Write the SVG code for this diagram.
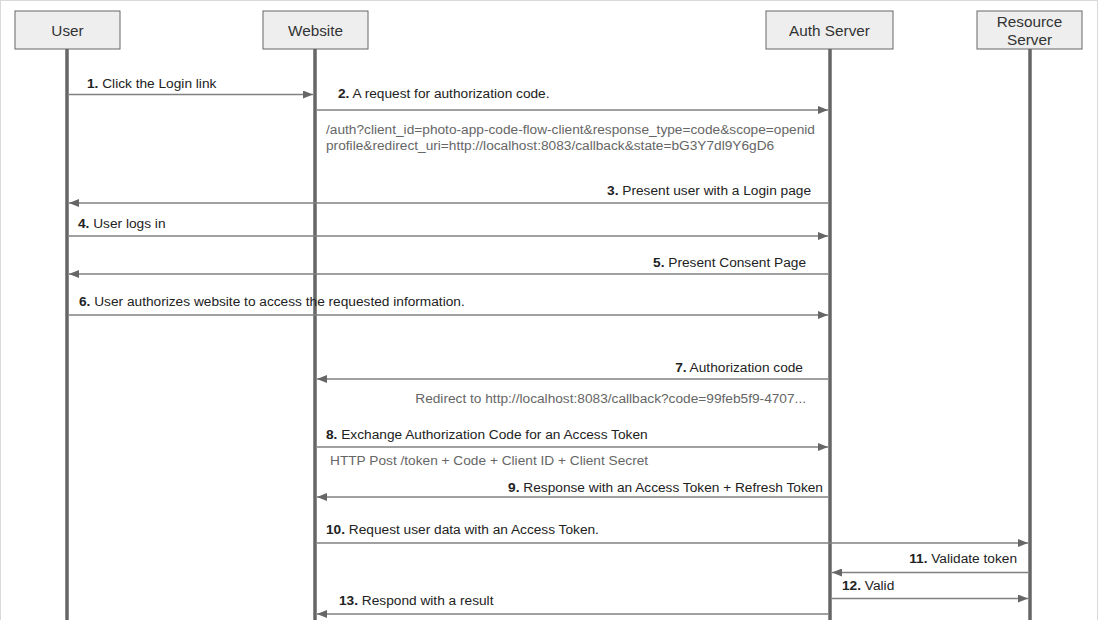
<svg xmlns="http://www.w3.org/2000/svg" width="1098" height="620" viewBox="0 0 1098 620">
<style>
.frame{fill:#fff;stroke:#d9d9d9;stroke-width:1}
.box{fill:#eeeeee;stroke:#666;stroke-width:1}
.life{stroke:#666;stroke-width:3.5}
.msg{stroke:#808080;stroke-width:1.5;fill:none}
.t{font-family:"Liberation Sans",Arial,sans-serif;font-size:13.7px;fill:#222}
.n{font-weight:bold}
.s{font-family:"Liberation Sans",Arial,sans-serif;font-size:13.7px;fill:#666}
.h{font-family:"Liberation Sans",Arial,sans-serif;font-size:15.3px;fill:#333;text-anchor:middle}
.r{text-anchor:end}
</style>
<defs>
<marker id="ah" viewBox="0 0 10 8" refX="10" refY="4" markerWidth="10" markerHeight="8" markerUnits="userSpaceOnUse" orient="auto">
<path d="M0,0 L10,4 L0,8 Z" fill="#666"/>
</marker>
</defs>
<rect class="frame" x="0.5" y="0.5" width="1097" height="640"/>
<g id="user"><rect class="box" x="15" y="11" width="105" height="38"/><text class="h" x="67.5" y="35.5">User</text><line class="life" x1="67" y1="49" x2="67" y2="620"/></g>
<g id="website"><rect class="box" x="263" y="11" width="105" height="38"/><text class="h" x="315.5" y="35.5">Website</text><line class="life" x1="315" y1="49" x2="315" y2="620"/></g>
<g id="auth-server"><rect class="box" x="766" y="11" width="127" height="38"/><text class="h" x="829.5" y="35.5">Auth Server</text><line class="life" x1="830" y1="49" x2="830" y2="620"/></g>
<g id="resource-server"><rect class="box" x="977" y="11" width="105" height="38"/><text class="h" x="1029.5" y="27">Resource</text><text class="h" x="1029.5" y="44.5">Server</text><line class="life" x1="1030" y1="49" x2="1030" y2="620"/></g>
<g id="connectors">
<line class="msg" x1="69" y1="94.5" x2="313" y2="94.5" marker-end="url(#ah)"/>
<line class="msg" x1="317" y1="110" x2="828" y2="110" marker-end="url(#ah)"/>
<line class="msg" x1="828" y1="203" x2="69" y2="203" marker-end="url(#ah)"/>
<line class="msg" x1="69" y1="236" x2="828" y2="236" marker-end="url(#ah)"/>
<line class="msg" x1="828" y1="274" x2="69" y2="274" marker-end="url(#ah)"/>
<line class="msg" x1="69" y1="315" x2="828" y2="315" marker-end="url(#ah)"/>
<line class="msg" x1="828" y1="379" x2="317" y2="379" marker-end="url(#ah)"/>
<line class="msg" x1="317" y1="447" x2="828" y2="447" marker-end="url(#ah)"/>
<line class="msg" x1="828" y1="497" x2="317" y2="497" marker-end="url(#ah)"/>
<line class="msg" x1="317" y1="543" x2="1028" y2="543" marker-end="url(#ah)"/>
<line class="msg" x1="1028" y1="572.5" x2="832" y2="572.5" marker-end="url(#ah)"/>
<line class="msg" x1="832" y1="598.5" x2="1028" y2="598.5" marker-end="url(#ah)"/>
<line class="msg" x1="828" y1="614" x2="317" y2="614" marker-end="url(#ah)"/>
</g>
<g id="labels">
<text class="t" x="87" y="88"><tspan class="n">1.</tspan> Click the Login link</text>
<text class="t" x="338" y="98"><tspan class="n">2.</tspan> A request for authorization code.</text>
<text class="s" x="326" y="134">/auth?client_id=photo-app-code-flow-client&amp;response_type=code&amp;scope=openid</text>
<text class="s" x="326" y="150">profile&amp;redirect_uri=http://localhost:8083/callback&amp;state=bG3Y7dl9Y6gD6</text>
<text class="t r" x="811" y="195"><tspan class="n">3.</tspan> Present user with a Login page</text>
<text class="t" x="78" y="228"><tspan class="n">4.</tspan> User logs in</text>
<text class="t r" x="806" y="267"><tspan class="n">5.</tspan> Present Consent Page</text>
<text class="t" x="79" y="306"><tspan class="n">6.</tspan> User authorizes website to access the requested information.</text>
<text class="t r" x="803" y="372"><tspan class="n">7.</tspan> Authorization code</text>
<text class="s r" x="806" y="403">Redirect to http://localhost:8083/callback?code=99feb5f9-4707...</text>
<text class="t" x="326" y="439"><tspan class="n">8.</tspan> Exchange Authorization Code for an Access Token</text>
<text class="s" x="330" y="465">HTTP Post /token + Code + Client ID + Client Secret</text>
<text class="t r" x="823" y="492"><tspan class="n">9.</tspan> Response with an Access Token + Refresh Token</text>
<text class="t" x="326" y="534"><tspan class="n">10.</tspan> Request user data with an Access Token.</text>
<text class="t r" x="1017" y="563"><tspan class="n">11.</tspan> Validate token</text>
<text class="t" x="842" y="590"><tspan class="n">12.</tspan> Valid</text>
<text class="t" x="339" y="605"><tspan class="n">13.</tspan> Respond with a result</text>
</g>
</svg>
